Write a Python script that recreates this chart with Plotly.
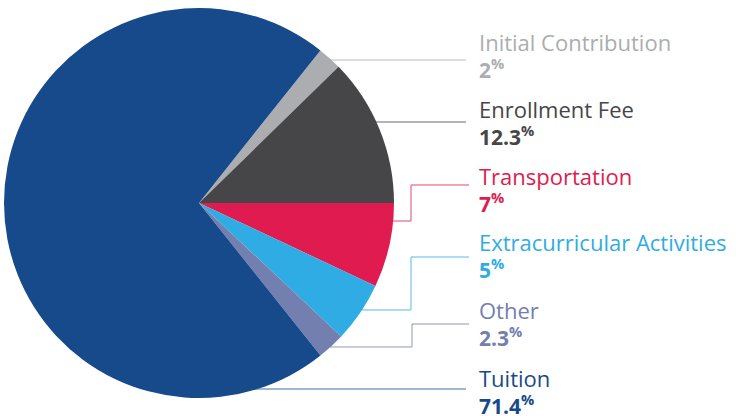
import plotly.graph_objects as go

W, H = 741, 416

labels = ["Initial Contribution", "Enrollment Fee", "Transportation",
          "Extracurricular Activities", "Other", "Tuition"]
values = [2, 12.3, 7, 5, 2.3, 71.4]
colors = ["#acadb0", "#464648", "#e01b50", "#2face3", "#737faf", "#164a8b"]

# label text rows (pixel y for name line / value line) and leader paths
LABEL_X = 477
NAME_Y = [43, 109, 176, 243, 310, 378]
VALUE_Y = [69, 136, 202, 268, 336, 404]
LEADERS = [
    [(330, 60), (466, 60)],
    [(376, 122), (466, 122)],
    [(393, 221), (411, 221), (411, 185), (469, 185)],
    [(361, 310), (411, 310), (411, 257), (469, 257)],
    [(330, 347), (412, 347), (412, 324), (469, 324)],
    [(250, 389), (466, 389)],
]


def px(x, y):
    return x / W, 1 - y / H


fig = go.Figure(go.Pie(
    labels=labels, values=values,
    marker=dict(colors=colors, line=dict(width=0)),
    sort=False, direction="clockwise", rotation=38.5,
    textinfo="none", hoverinfo="label+percent",
    domain=dict(x=[4 / W, 394 / W], y=[1 - 398 / H, 1 - 8 / H]),
))

for i, name in enumerate(labels):
    c = colors[i]
    x, y = px(LABEL_X, (NAME_Y[i] + VALUE_Y[i]) / 2)
    fig.add_annotation(
        x=x, y=y, xref="paper", yref="paper",
        text=f"<span style='font-size:22px'>{name}</span><br>"
             f"<b>{values[i]:g}<sup>%</sup></b>",
        showarrow=False, xanchor="left", yanchor="middle", align="left",
        font=dict(size=21, color=c))
    pts = [px(a, b) for a, b in LEADERS[i]]
    path = "M " + " L ".join(f"{a:.5f},{b:.5f}" for a, b in pts)
    fig.add_shape(type="path", path=path, xref="paper", yref="paper",
                  line=dict(color=c, width=1), opacity=0.8)

fig.update_layout(
    width=W, height=H,
    margin=dict(l=0, r=0, t=0, b=0),
    showlegend=False,
    paper_bgcolor="white",
    font=dict(family="Open Sans, sans-serif"),
)

fig.write_html("out.html", config={"displayModeBar": False},
               post_script="document.body.style.margin='0';")
